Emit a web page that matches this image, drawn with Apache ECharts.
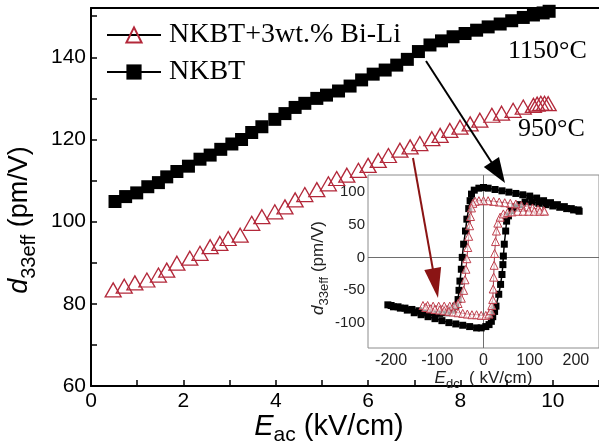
<!DOCTYPE html>
<html>
<head>
<meta charset="utf-8">
<script src="https://cdn.jsdelivr.net/npm/echarts@6/dist/echarts.min.js"></script>
<style>
html,body{margin:0;padding:0;background:#fff;}
#chart{width:599px;height:441px;}
</style>
</head>
<body>
<div id="chart"></div>
<script>
// ---------- main plot data ----------
const seriesNames = ['NKBT+3wt.% Bi-Li', 'NKBT'];
const nkbtE = [0.52,0.75,0.99,1.23,1.46,1.64,1.86,2.11,2.36,2.58,2.81,3.05,3.26,3.48,3.70,3.98,4.20,4.42,4.63,4.89,5.10,5.36,5.61,5.86,6.11,6.37,6.62,6.85,7.09,7.34,7.59,7.84,8.10,8.35,8.60,8.86,9.11,9.36,9.58,9.79,9.92];
const nkbtD = [104.9,106.1,107.0,108.5,109.5,110.9,112.2,113.5,115.2,116.2,117.6,118.9,120.0,121.7,123.1,124.9,126.3,127.8,128.8,130.0,130.8,131.8,133.0,134.5,135.9,136.9,138.1,139.5,141.4,143.0,144.0,145.0,145.8,146.6,147.4,148.1,148.9,149.7,150.3,150.8,151.2];
const biliE = [0.48,0.72,0.95,1.21,1.46,1.64,1.86,2.14,2.36,2.58,2.79,2.97,3.23,3.48,3.70,3.98,4.20,4.42,4.63,4.89,5.14,5.32,5.54,5.79,6.00,6.22,6.44,6.69,6.91,7.12,7.38,7.56,7.77,7.99,8.21,8.42,8.68,8.89,9.14,9.36,9.58,9.66,9.74,9.82,9.90];
const biliD = [83.4,84.3,85.1,85.8,87.0,88.2,89.9,91.1,92.3,93.9,94.7,95.9,96.7,99.6,101.2,102.4,103.6,105.3,106.6,107.8,109.2,110.5,111.3,112.5,113.7,114.9,116.1,117.4,118.2,119.0,120.2,121.0,122.2,123.0,123.8,124.7,125.9,126.4,127.1,127.9,128.3,128.6,128.8,128.8,128.7];
// ---------- inset (hysteresis loops) data ----------
const insetNkbtE = [205,190,175,160,145,130,115,100,85,70,55,40,25,10,0,-10,-20,-26,
  -29,-32,-36,-39,-43,-46,-48,-51,-53,-55,-60,-68,
  -80,-95,-110,-125,-140,-155,-170,-185,-200,-207,
  -195,-180,-165,-150,-135,-120,-105,-90,-75,-60,-45,-30,-15,-5,5,12,
  17,20,24,27,33,37,40,42,43,45,48,50,54,
  60,68,78,90,105,120,135,150,165,180,195,207];
const insetNkbtD = [72,74,77,80,83,86,90,93,95,97,99,101,103,105,106,105,102,96,
  86,74,58,40,20,0,-18,-36,-50,-64,-74,-80,
  -84,-85,-84,-83,-81,-79,-77,-75,-73,-72,
  -75,-77,-80,-84,-87,-90,-93,-96,-99,-101,-103,-105,-107,-107,-105,-102,
  -97,-90,-82,-74,-56,-41,-26,-11,2,20,40,55,63,
  71,76,80,84,84,82,80,78,76,74,72,70];
const insetBiliE = [130,118,106,94,82,70,58,46,34,22,10,0,-10,-18,
  -23,-26,-28,-30,-32,-34,-36,-38,-40,-43,-48,-55,-63,
  -73,-85,-97,-109,-121,-131,
  -125,-115,-105,-95,-85,-75,-65,-55,-45,-35,-25,-15,-5,5,12,
  16,18,20,21,22,23,24,26,28,31,36,43,
  52,62,74,86,98,110,122,132];
const insetBiliD = [71,73,75,77,79,81,82,83,84,85,86,86,86,85,
  82,75,62,48,32,15,-2,-18,-34,-50,-62,-70,-73,
  -74,-74,-74,-74,-73,-73,
  -76,-78,-79,-80,-81,-82,-83,-84,-85,-86,-87,-87,-88,-88,-86,
  -81,-73,-64,-48,-30,-12,6,24,40,52,61,66,
  68,69,70,70,70,70,70,70];
const annotations = ['1150°C', '950°C'];

const zip = (a, b) => a.map((v, i) => [v, b[i]]);
const RED = '#b3283a';
const INRED = '#c0404e';
const SANS = 'Liberation Sans';
const SERIF = 'Liberation Serif';

const chart = echarts.init(document.getElementById('chart'), null, {renderer: 'canvas'});

const mainLabel = {fontFamily: SANS, fontSize: 21, color: '#000'};
const insetLabelX = {fontFamily: SANS, fontSize: 16, color: '#222'};
const insetLabelY = {fontFamily: SANS, fontSize: 15, color: '#222'};

const option = {
  animation: false,
  backgroundColor: '#fff',
  grid: [
    {left: 91, top: 8, right: 0, bottom: 55, containLabel: false, outerBoundsMode: 'none'},
    {left: 368, top: 175, right: 0, bottom: 93, show: true, backgroundColor: '#fff', borderColor: '#8c8c8c', borderWidth: 1, z: 3, containLabel: false, outerBoundsMode: 'none'}
  ],
  legend: {
    data: seriesNames,
    orient: 'vertical',
    left: 101, top: 16,
    itemWidth: 54, itemHeight: 19, itemGap: 9,
    textStyle: {fontFamily: SERIF, fontSize: 28, color: '#000', lineHeight: 28, padding: [0, 0, 0, 3]},
    lineStyle: {color: '#000', width: 2, opacity: 1}
  },
  xAxis: [
    { // main bottom, labels
      gridIndex: 0, type: 'value', min: 0, max: 11, interval: 2,
      axisLine: {show: true, onZero: false, lineStyle: {color: '#000', width: 2}},
      axisTick: {show: false}, splitLine: {show: false},
      axisLabel: Object.assign({margin: 5, showMaxLabel: false}, mainLabel),
      name: '{i|E}{s|ac}{t| (kV/cm)}', nameLocation: 'middle', nameGap: 26, nameMoveOverlap: false,
      nameTextStyle: {padding: [0, 32, 0, 0], rich: {
        i: {fontFamily: SANS, fontStyle: 'italic', fontSize: 29, verticalAlign: 'bottom', padding: [0, 0, 5, 0], color: '#000'},
        s: {fontFamily: SANS, fontSize: 21, verticalAlign: 'bottom', color: '#000'},
        t: {fontFamily: SANS, fontSize: 29, verticalAlign: 'bottom', padding: [0, 0, 5, 0], color: '#000'}
      }}
    },
    { // main bottom, ticks every 1
      gridIndex: 0, type: 'value', position: 'bottom', min: 0, max: 11, interval: 1,
      axisLine: {show: false}, axisLabel: {show: false}, splitLine: {show: false},
      axisTick: {show: true, inside: true, length: 6, lineStyle: {color: '#000', width: 1.5}}
    },
    { // top frame
      gridIndex: 0, type: 'value', position: 'top', min: 0, max: 11,
      axisLine: {show: true, onZero: false, lineStyle: {color: '#000', width: 2}},
      axisTick: {show: false}, axisLabel: {show: false}, splitLine: {show: false}
    },
    { // inset x
      gridIndex: 1, type: 'value', min: -250, max: 250, interval: 50,
      axisLine: {show: false}, axisTick: {show: false}, splitLine: {show: false},
      axisLabel: Object.assign({margin: 5, formatter: v => (v % 100 === 0 ? String(v) : '')}, insetLabelX),
      name: '{i|E}{s|dc}{t|  ( kV/cm)}', nameLocation: 'middle', nameGap: 19,
      nameTextStyle: {rich: {
        i: {fontFamily: SANS, fontStyle: 'italic', fontSize: 17, verticalAlign: 'bottom', padding: [0, 0, 4, 0], color: '#222'},
        s: {fontFamily: SANS, fontSize: 13, verticalAlign: 'bottom', color: '#222'},
        t: {fontFamily: SANS, fontSize: 17, verticalAlign: 'bottom', padding: [0, 0, 4, 0], color: '#222'}
      }}
    }
  ],
  yAxis: [
    { // main left, labels
      gridIndex: 0, type: 'value', min: 60, max: 152, interval: 20,
      axisLine: {show: true, onZero: false, lineStyle: {color: '#000', width: 2}},
      axisTick: {show: false}, splitLine: {show: false},
      axisLabel: Object.assign({margin: 5, showMaxLabel: false}, mainLabel),
      name: '{i|d}{s|33eff}{t| (pm/V)}', nameLocation: 'middle', nameRotate: 90, nameGap: 52,
      nameTextStyle: {padding: [0, 46, 0, 0], rich: {
        i: {fontFamily: SANS, fontStyle: 'italic', fontSize: 27, verticalAlign: 'bottom', padding: [0, 0, 6, 0], color: '#000'},
        s: {fontFamily: SANS, fontSize: 20, verticalAlign: 'bottom', color: '#000'},
        t: {fontFamily: SANS, fontSize: 27, verticalAlign: 'bottom', padding: [0, 0, 6, 0], color: '#000'}
      }}
    },
    { // main left, ticks every 10
      gridIndex: 0, type: 'value', position: 'left', min: 60, max: 152, interval: 10,
      axisLine: {show: false}, axisLabel: {show: false}, splitLine: {show: false},
      axisTick: {show: true, inside: true, length: 6, lineStyle: {color: '#000', width: 1.5}}
    },
    { // inset y
      gridIndex: 1, type: 'value', min: -137.5, max: 125, interval: 12.5,
      axisLine: {show: false}, axisTick: {show: false}, splitLine: {show: false},
      axisLabel: Object.assign({margin: 3, formatter: v => (v % 50 === 0 ? String(v) : '')}, insetLabelY),
      name: '{i|d}{s|33eff}{t| (pm/V)}', nameLocation: 'middle', nameRotate: 90, nameGap: 30,
      nameTextStyle: {padding: [0, 13, 0, 0], rich: {
        i: {fontFamily: SANS, fontStyle: 'italic', fontSize: 17, verticalAlign: 'bottom', padding: [0, 0, 4, 0], color: '#222'},
        s: {fontFamily: SANS, fontSize: 13, verticalAlign: 'bottom', color: '#222'},
        t: {fontFamily: SANS, fontSize: 17, verticalAlign: 'bottom', padding: [0, 0, 4, 0], color: '#222'}
      }}
    }
  ],
  series: [
    {
      name: seriesNames[0], type: 'line', xAxisIndex: 0, yAxisIndex: 0,
      data: zip(biliE, biliD), symbol: 'triangle', symbolSize: [16, 14], showAllSymbol: true,
      itemStyle: {color: 'rgba(255,255,255,0)', borderColor: RED, borderWidth: 1.3},
      lineStyle: {opacity: 0}, z: 4
    },
    {
      name: seriesNames[1], type: 'line', xAxisIndex: 0, yAxisIndex: 0,
      data: zip(nkbtE, nkbtD), symbol: 'rect', symbolSize: 13, showAllSymbol: true,
      itemStyle: {color: '#000'}, lineStyle: {opacity: 0}, z: 4
    },
    {
      name: 'inset NKBT', type: 'line', xAxisIndex: 3, yAxisIndex: 2,
      data: zip(insetNkbtE, insetNkbtD), symbol: 'rect', symbolSize: 7, showAllSymbol: true,
      itemStyle: {color: '#000'}, lineStyle: {color: '#000', width: 1.5}, z: 5,
      markLine: {silent: true, symbol: 'none', label: {show: false}, animation: false,
        lineStyle: {color: '#6e6e6e', width: 1, type: 'solid'},
        data: [{xAxis: 0}, {yAxis: 0}]}
    },
    {
      name: 'inset Bi-Li', type: 'line', xAxisIndex: 3, yAxisIndex: 2,
      data: zip(insetBiliE, insetBiliD), symbol: 'triangle', symbolSize: [8, 8], showAllSymbol: true,
      itemStyle: {color: 'rgba(255,255,255,0.6)', borderColor: INRED, borderWidth: 1},
      lineStyle: {color: '#9a3040', width: 1}, z: 6
    }
  ],
  graphic: [
    {type: 'text', x: 508, y: 38, z: 20, style: {text: annotations[0], fontFamily: SERIF, fontSize: 26, fill: '#000'}},
    {type: 'text', x: 518, y: 116, z: 20, style: {text: annotations[1], fontFamily: SERIF, fontSize: 26, fill: '#000'}},
    // black arrow
    {type: 'line', z: 20, shape: {x1: 426, y1: 61, x2: 492, y2: 163}, style: {stroke: '#000', lineWidth: 2}},
    {type: 'polygon', z: 20, shape: {points: [[505, 183], [483.8, 166.9], [499, 157.1]]}, style: {fill: '#000'}},
    // red arrow
    {type: 'line', z: 20, shape: {x1: 413, y1: 158, x2: 433, y2: 270}, style: {stroke: '#8b1414', lineWidth: 2}},
    {type: 'polygon', z: 20, shape: {points: [[438, 298], [424.3, 269.9], [441.1, 266.9]]}, style: {fill: '#8b1414'}}
  ]
};
chart.setOption(option);
</script>
</body>
</html>
